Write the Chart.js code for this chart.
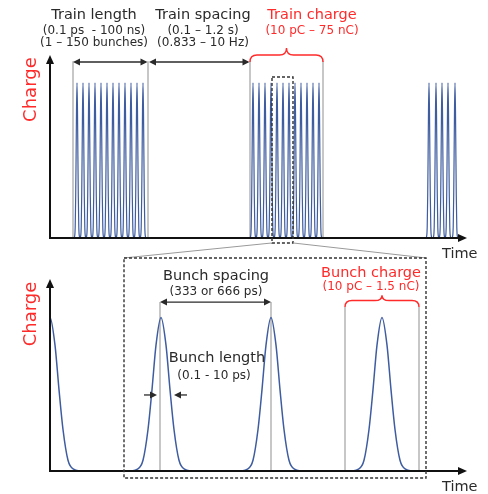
<!DOCTYPE html>
<html>
<head>
<meta charset="utf-8">
<script src="https://cdn.jsdelivr.net/npm/chart.js@4.4.1/dist/chart.umd.min.js"></script>
<style>
  body { margin: 0; background: #fff; }
  .wrap { position: relative; width: 488px; height: 494px; }
  canvas { position: absolute; left: 0; top: 0; }
</style>
</head>
<body>
<div class="wrap">
  <canvas id="trains" width="488" height="494"></canvas>
  <canvas id="bunches" width="488" height="494"></canvas>
</div>
<script>
// bunch centres inside each train (top panel, arbitrary time units)
const train1 = [27, 33, 39, 45, 51, 57, 63, 69, 75, 81, 87, 93];
const train2 = [203, 209, 215, 221, 227, 233, 239, 245, 251, 257, 263, 269];
const train3 = [379, 386, 392, 398, 405];
// bunch centres in the zoomed view (bottom panel)
const bunchCentres = [0, 111, 221, 332];
// one bunch profile: offset from centre / relative charge
const profileOffsets = [-30, -24, -18, -13, -9, -5, 0, 5, 9, 13, 18, 24, 30];
const profileCharge = [0, 0.01, 0.07, 0.27, 0.53, 0.82, 1, 0.82, 0.53, 0.27, 0.07, 0.01, 0];
const topSqueeze = 0.1; // top panel bunches are much narrower on the train time scale

// labels
const trainTitles = ['Train length', 'Train spacing', 'Train charge'];
const trainNotes = [['(0.1 ps  - 100 ns)', '(1 \u2013 150 bunches)'], ['(0.1 \u2013 1.2 s)', '(0.833 \u2013 10 Hz)'], ['(10 pC \u2013 75 nC)']];
const bunchTitles = ['Bunch spacing', 'Bunch charge', 'Bunch length'];
const bunchNotes = ['(333 or 666 ps)', '(10 pC \u2013 1.5 nC)', '(0.1 - 10 ps)'];

const BLUE = 'rgb(62, 92, 160)';
const RED = '#ff2a2a';
const INK = '#2a2a2a';
const GUIDE = '#b4b4b4';
const FONT = '"DejaVu Sans", Verdana, sans-serif';

function bunchSet(c, squeeze, width) {
  return {
    data: profileOffsets.map((o, i) => ({ x: c + o * squeeze, y: profileCharge[i] })),
    borderColor: BLUE,
    borderWidth: width,
    pointRadius: 0,
    fill: false,
    cubicInterpolationMode: 'monotone'
  };
}

function line(ctx, x0, y0, x1, y1) {
  ctx.beginPath(); ctx.moveTo(x0, y0); ctx.lineTo(x1, y1); ctx.stroke();
}

function head(ctx, x, y, ang, len, w) {
  const c = Math.cos(ang), s = Math.sin(ang);
  ctx.beginPath();
  ctx.moveTo(x, y);
  ctx.lineTo(x - len * c + w * s, y - len * s - w * c);
  ctx.lineTo(x - len * c - w * s, y - len * s + w * c);
  ctx.closePath();
  ctx.fill();
}

function doubleArrow(ctx, x0, x1, y) {
  ctx.strokeStyle = INK; ctx.fillStyle = INK; ctx.lineWidth = 1.3;
  line(ctx, x0 + 2, y, x1 - 2, y);
  head(ctx, x0, y, Math.PI, 7, 3.5);
  head(ctx, x1, y, 0, 7, 3.5);
}

function brace(ctx, x0, x1, yEnd, yBody, yTip) {
  const xm = (x0 + x1) / 2, r = 7;
  ctx.strokeStyle = RED; ctx.lineWidth = 1.4;
  ctx.beginPath();
  ctx.moveTo(x0, yEnd);
  ctx.quadraticCurveTo(x0, yBody, x0 + r, yBody);
  ctx.lineTo(xm - r, yBody);
  ctx.quadraticCurveTo(xm, yBody, xm, yTip);
  ctx.quadraticCurveTo(xm, yBody, xm + r, yBody);
  ctx.lineTo(x1 - r, yBody);
  ctx.quadraticCurveTo(x1, yBody, x1, yEnd);
  ctx.stroke();
}

function axesWithArrows(chart) {
  const { ctx, chartArea: a } = chart;
  ctx.strokeStyle = '#111'; ctx.fillStyle = '#111'; ctx.lineWidth = 2;
  line(ctx, a.left - 1, a.bottom, a.right - 6, a.bottom);
  line(ctx, a.left, a.bottom + 1, a.left, a.top + 6);
  head(ctx, a.right, a.bottom, 0, 9, 4);
  head(ctx, a.left, a.top, -Math.PI / 2, 9, 4);
}

function text(ctx, s, x, y, size, color, align) {
  ctx.font = size + 'px ' + FONT;
  ctx.fillStyle = color;
  ctx.textAlign = align || 'center';
  ctx.textBaseline = 'middle';
  ctx.fillText(s, x, y);
}

function axisTitles(chart, yCharge, yTime) {
  const { ctx } = chart;
  const X = v => chart.scales.x.getPixelForValue(v);
  const Y = v => chart.scales.y.getPixelForValue(v);
  ctx.save();
  ctx.translate(X(-19), Y(yCharge));
  ctx.rotate(-Math.PI / 2);
  text(ctx, 'Charge', 0, 0, 18, RED);
  ctx.restore();
  text(ctx, 'Time', X(392), Y(yTime), 14.5, INK, 'left');
}

function baseOptions(padTop, padBottom, yMax) {
  return {
    responsive: false,
    animation: false,
    events: [],
    layout: { padding: { left: 50, right: 21, top: padTop, bottom: padBottom } },
    plugins: { legend: { display: false }, tooltip: { enabled: false } },
    scales: {
      x: { type: 'linear', min: 0, max: 417, display: false },
      y: { type: 'linear', min: 0, max: yMax, display: false }
    }
  };
}

// ---------- top panel: bunch trains ----------
const trainMarks = {
  id: 'trainMarks',
  beforeDatasetsDraw(chart) {
    const { ctx } = chart;
    const X = v => chart.scales.x.getPixelForValue(v);
    const Y = v => chart.scales.y.getPixelForValue(v);
    ctx.save();
    ctx.strokeStyle = GUIDE; ctx.lineWidth = 1.5;
    [23, 98, 200, 273].forEach(g => line(ctx, X(g), Y(1.14), X(g), Y(0)));
    ctx.restore();
  },
  afterDraw(chart) {
    const { ctx } = chart;
    const X = v => chart.scales.x.getPixelForValue(v);
    const Y = v => chart.scales.y.getPixelForValue(v);
    ctx.save();
    axesWithArrows(chart);
    doubleArrow(ctx, X(23), X(97.5), Y(1.135));
    doubleArrow(ctx, X(99), X(199.5), Y(1.135));
    brace(ctx, X(200), X(273), Y(1.135), Y(1.18), Y(1.225));
    // zoom window
    ctx.strokeStyle = '#333'; ctx.lineWidth = 1.4; ctx.setLineDash([3, 2]);
    ctx.strokeRect(X(222), Y(1.038), X(243) - X(222), Y(-0.032) - Y(1.038));
    ctx.setLineDash([]);
    // labels
    const cx = [44, 153, 262];
    trainTitles.forEach((t, i) => {
      const col = i === 2 ? RED : INK;
      text(ctx, t, X(cx[i]), Y(1.438), 14.5, col);
      trainNotes[i].forEach((n, j) => text(ctx, n, X(cx[i]), Y(1.335 - j * 0.078), 12, col));
    });
    axisTitles(chart, 0.957, -0.103);
    ctx.restore();
  }
};

const trainChart = new Chart(document.getElementById('trains'), {
  type: 'line',
  data: { datasets: [...train1, ...train2, ...train3].map(c => bunchSet(c, topSqueeze, 1.2)) },
  options: baseOptions(55, 256, 1.18),
  plugins: [trainMarks]
});

// ---------- bottom panel: single bunches ----------
const bunchMarks = {
  id: 'bunchMarks',
  beforeDatasetsDraw(chart) {
    const { ctx } = chart;
    const X = v => chart.scales.x.getPixelForValue(v);
    const Y = v => chart.scales.y.getPixelForValue(v);
    ctx.save();
    ctx.strokeStyle = GUIDE; ctx.lineWidth = 1.5;
    [110, 221].forEach(g => line(ctx, X(g), Y(1.1), X(g), Y(0)));
    [295, 369].forEach(g => line(ctx, X(g), Y(1.068), X(g), Y(0)));
    ctx.restore();
  },
  afterDraw(chart) {
    const { ctx } = chart;
    const X = v => chart.scales.x.getPixelForValue(v);
    const Y = v => chart.scales.y.getPixelForValue(v);
    const tX = v => trainChart.scales.x.getPixelForValue(v);
    const tY = v => trainChart.scales.y.getPixelForValue(v);
    ctx.save();
    // connectors from the zoom window above
    ctx.strokeStyle = '#9a9a9a'; ctx.lineWidth = 1;
    line(ctx, tX(222), tY(-0.032), X(74), Y(1.387));
    line(ctx, tX(243), tY(-0.032), X(376), Y(1.387));
    axesWithArrows(chart);
    ctx.strokeStyle = '#333'; ctx.lineWidth = 1.4; ctx.setLineDash([3, 2]);
    ctx.strokeRect(X(74), Y(1.387), X(376) - X(74), Y(-0.046) - Y(1.387));
    ctx.setLineDash([]);
    doubleArrow(ctx, X(110), X(221), Y(1.1));
    brace(ctx, X(295), X(369), Y(1.068), Y(1.11), Y(1.145));
    // bunch length arrows
    ctx.strokeStyle = INK; ctx.fillStyle = INK; ctx.lineWidth = 1.3;
    line(ctx, X(94), Y(0.495), X(102), Y(0.495));
    head(ctx, X(107), Y(0.495), 0, 7, 3.5);
    line(ctx, X(137), Y(0.495), X(129), Y(0.495));
    head(ctx, X(124), Y(0.495), Math.PI, 7, 3.5);
    // labels
    text(ctx, bunchTitles[0], X(166), Y(1.27), 14.5, INK);
    text(ctx, bunchNotes[0], X(166), Y(1.165), 12, INK);
    text(ctx, bunchTitles[1], X(321), Y(1.289), 14.5, RED);
    text(ctx, bunchNotes[1], X(321), Y(1.198), 12, RED);
    text(ctx, bunchTitles[2], X(167), Y(0.736), 14.5, INK);
    text(ctx, bunchNotes[2], X(164), Y(0.618), 12, INK);
    axisTitles(chart, 1.022, -0.104);
    ctx.restore();
  }
};

new Chart(document.getElementById('bunches'), {
  type: 'line',
  data: { datasets: bunchCentres.map(c => bunchSet(c, 1, 1.5)) },
  options: baseOptions(279, 23, 1.25),
  plugins: [bunchMarks]
});
</script>
</body>
</html>
